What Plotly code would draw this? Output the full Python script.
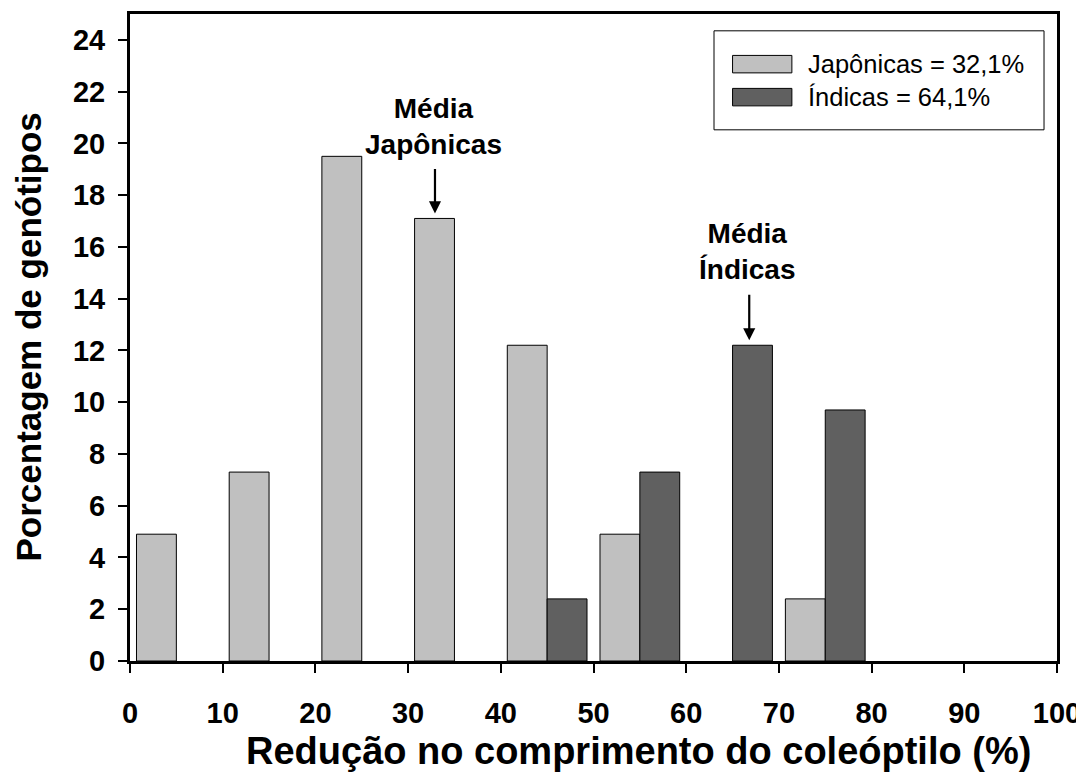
import plotly.graph_objects as go

# classes de redução (centro de cada intervalo de 10%)
classes = [5, 15, 25, 35, 45, 55, 65, 75]
japonicas = [4.9, 7.3, 19.5, 17.1, 12.2, 4.9, None, 2.4]
indicas = [None, None, None, None, 2.4, 7.3, 12.2, 9.7]
nomes = ["Japônicas = 32,1%", "Índicas = 64,1%"]
cores = ["#c0c0c0", "#606060"]

x_ticks = list(range(0, 101, 10))
y_ticks = list(range(0, 25, 2))

FONT = "Liberation Sans, Arial, sans-serif"

fig = go.Figure()
for nome, cor, vals in zip(nomes, cores, [japonicas, indicas]):
    fig.add_trace(go.Bar(
        x=classes, y=vals, name=nome, showlegend=False,
        marker=dict(color=cor, line=dict(color="black", width=1))
    ))

# setas das médias
fig.add_annotation(x=32.9, y=17.1, ax=0, ay=-51, text="", showarrow=True,
                   arrowhead=2, arrowsize=1.1, arrowwidth=2.2, arrowcolor="black", standoff=5)
fig.add_annotation(x=32.7, y=19.3, text="<b>Média<br>Japônicas</b>", showarrow=False,
                   yanchor="bottom", font=dict(size=28, color="black", family=FONT))
fig.add_annotation(x=66.8, y=12.2, ax=0, ay=-52, text="", showarrow=True,
                   arrowhead=2, arrowsize=1.1, arrowwidth=2.2, arrowcolor="black", standoff=5)
fig.add_annotation(x=66.6, y=14.45, text="<b>Média<br>Índicas</b>", showarrow=False,
                   yanchor="bottom", font=dict(size=28, color="black", family=FONT))

# legenda desenhada à mão (caixa + retângulos largos)
fig.add_shape(type="rect", xref="paper", yref="paper", x0=0.630, x1=0.986, y0=0.821, y1=0.974,
              line=dict(color="black", width=1), fillcolor="white", layer="above")
for i, (nome, cor) in enumerate(zip(nomes, cores)):
    y0 = 0.909 - i * 0.051
    fig.add_shape(type="rect", xref="paper", yref="paper", x0=0.650, x1=0.714, y0=y0, y1=y0 + 0.027,
                  line=dict(color="black", width=1), fillcolor=cor, layer="above")
    fig.add_annotation(xref="paper", yref="paper", x=0.729, y=y0 + 0.0135, text=nome,
                       showarrow=False, xanchor="left", yanchor="middle",
                       font=dict(size=25.5, color="black", family=FONT))

# títulos dos eixos
fig.add_annotation(xref="paper", yref="paper", x=(638 - 130) / 927, y=0, yshift=-67,
                   xanchor="center", yanchor="top", showarrow=False,
                   text="<b>Redução no comprimento do coleóptilo (%)</b>",
                   font=dict(size=38, color="black", family=FONT))
fig.add_annotation(xref="paper", yref="paper", x=0, y=0.5, xshift=-102,
                   xanchor="center", yanchor="middle", showarrow=False, textangle=-90,
                   text="<b>Porcentagem de genótipos</b>",
                   font=dict(size=35, color="black", family=FONT))

# a página tem margem de 8px no body: compensada nas margens
fig.update_layout(
    width=1084, height=773,
    barmode="group", bargap=0.14, bargroupgap=0,
    plot_bgcolor="white", paper_bgcolor="white",
    margin=dict(l=122, r=35, t=6, b=120),
    font=dict(family=FONT, color="black"),
    showlegend=False,
    xaxis=dict(range=[0, 100], tickvals=x_ticks, showgrid=False, zeroline=False,
               showline=True, linecolor="black", linewidth=3, mirror=True,
               ticks="outside", ticklen=9, tickwidth=1.5, tickcolor="black",
               tickfont=dict(size=29, family=FONT, weight="bold"),
               ticklabelstandoff=15, automargin=False),
    yaxis=dict(range=[0, 25], tickvals=y_ticks, showgrid=False, zeroline=False,
               showline=True, linecolor="black", linewidth=3, mirror=True,
               ticks="outside", ticklen=9, tickwidth=1.5, tickcolor="black",
               tickfont=dict(size=29, family=FONT, weight="bold"),
               ticklabelstandoff=7, automargin=False),
)

fig.write_html("out.html")
